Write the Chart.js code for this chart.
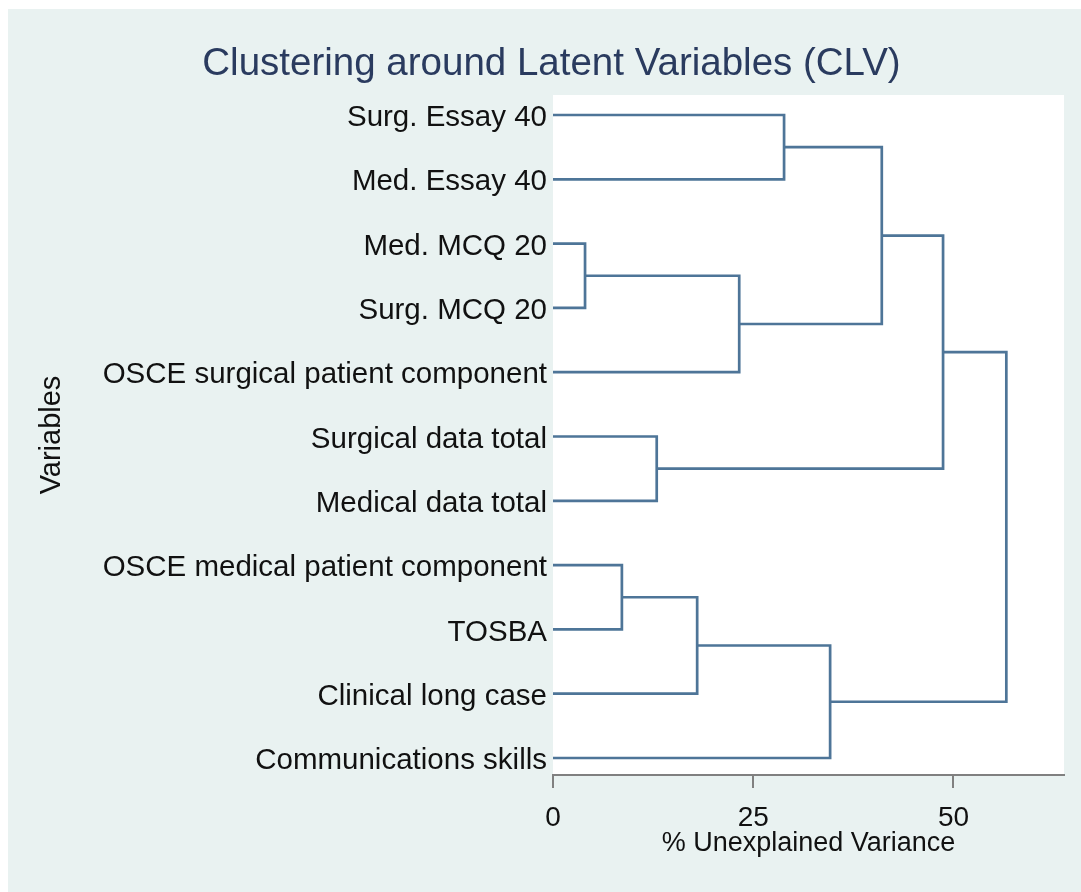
<!DOCTYPE html>
<html>
<head>
<meta charset="utf-8">
<script src="https://cdn.jsdelivr.net/npm/chart.js@4.4.1/dist/chart.umd.min.js"></script>
<style>
  html, body { margin: 0; padding: 0; background: #ffffff; }
  #wrap { width: 1081px; height: 892px; }
</style>
</head>
<body>
<div id="wrap"><canvas id="clv"></canvas></div>
<script>
// leaves, top to bottom
const variables = [
  'Surg. Essay 40',
  'Med. Essay 40',
  'Med. MCQ 20',
  'Surg. MCQ 20',
  'OSCE surgical patient component',
  'Surgical data total',
  'Medical data total',
  'OSCE medical patient component',
  'TOSBA',
  'Clinical long case',
  'Communications skills',
];

// merges: node ids 0..10 are leaves, each merge creates node 11, 12, ...
const mergeLeft   = [2, 7, 5, 12, 11, 0, 14, 16, 18, 19];
const mergeRight  = [3, 8, 6, 9, 4, 1, 10, 15, 13, 17];
const mergeHeight = [4.0, 8.6, 12.95, 18.0, 23.25, 28.85, 34.6, 41.05, 48.7, 56.6];

const xTicks = [0, 25, 50];

const FONT = '"Liberation Sans", Arial, Helvetica, sans-serif';
const lineClr  = '#4e7598';
const axisClr  = '#808080';
const panelClr = '#e9f2f1';

// node positions: x = merge height, y = mean of children rows
const nodeX = variables.map(() => 0);
const nodeY = variables.map((_, i) => i);
const datasets = [];
mergeHeight.forEach((h, k) => {
  const a = mergeLeft[k], b = mergeRight[k];
  datasets.push({
    data: [
      { x: nodeX[a], y: nodeY[a] },
      { x: h,        y: nodeY[a] },
      { x: h,        y: nodeY[b] },
      { x: nodeX[b], y: nodeY[b] },
    ],
    showLine: true,
    borderColor: lineClr,
    borderWidth: 2.7,
    pointRadius: 0,
    fill: false,
    tension: 0,
  });
  nodeX.push(h);
  nodeY.push((nodeY[a] + nodeY[b]) / 2);
});

const backdrop = {
  id: 'backdrop',
  beforeDraw(chart) {
    const { ctx, width, height, chartArea: ca } = chart;
    ctx.save();
    ctx.fillStyle = '#ffffff';
    ctx.fillRect(0, 0, width, height);
    ctx.fillStyle = panelClr;
    ctx.fillRect(8, 9, width - 8, height - 9);
    ctx.fillStyle = '#ffffff';
    ctx.fillRect(ca.left, ca.top, ca.right - ca.left, ca.bottom - ca.top);
    ctx.restore();
  },
};

new Chart(document.getElementById('clv'), {
  type: 'scatter',
  data: { datasets },
  plugins: [backdrop],
  options: {
    responsive: true,
    maintainAspectRatio: false,
    animation: false,
    layout: { padding: { left: 39, right: 17, top: 0, bottom: 0 } },
    plugins: {
      legend: { display: false },
      tooltip: { enabled: false },
      title: {
        display: true,
        text: 'Clustering around Latent Variables (CLV)',
        color: '#2a3b5f',
        font: { family: FONT, size: 38.5, weight: 'normal', lineHeight: 1 },
        padding: { top: 45, bottom: 11.5 },
      },
    },
    scales: {
      x: {
        type: 'linear',
        min: 0,
        max: 63.8,
        afterBuildTicks: s => { s.ticks = xTicks.map(v => ({ value: v })); },
        afterFit: s => { s.height = 117; },
        ticks: { color: '#111111', padding: 13, font: { family: FONT, size: 28 } },
        grid: { display: true, drawOnChartArea: false, drawTicks: true, tickLength: 13, color: axisClr, lineWidth: 2 },
        border: { display: true, color: axisClr, width: 2 },
        title: {
          display: true,
          text: '% Unexplained Variance',
          color: '#111111',
          font: { family: FONT, size: 27, lineHeight: 1 },
          padding: { top: 0, bottom: 35 },
        },
      },
      y: {
        type: 'linear',
        reverse: true,
        min: -0.311,
        max: 10.264,
        afterBuildTicks: s => { s.ticks = variables.map((_, i) => ({ value: i })); },
        afterFit: s => { s.width = 514; },
        ticks: {
          color: '#111111',
          padding: 6,
          labelOffset: 3,
          font: { family: FONT, size: 29.5 },
          callback: v => variables[v] ?? '',
        },
        grid: { display: false, drawTicks: false },
        border: { display: false },
        title: {
          display: true,
          text: 'Variables',
          color: '#111111',
          font: { family: FONT, size: 29, lineHeight: 1 },
          padding: { top: -1.5, bottom: 0 },
        },
      },
    },
  },
});
</script>
</body>
</html>
